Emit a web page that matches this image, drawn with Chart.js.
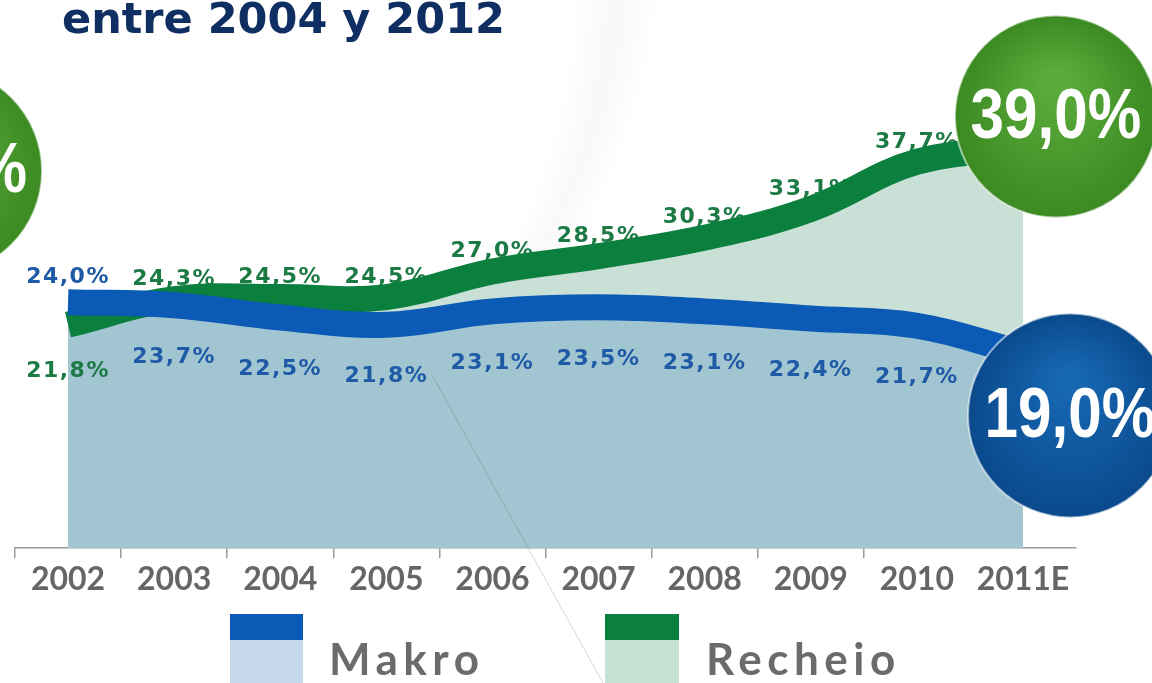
<!DOCTYPE html>
<html>
<head>
<meta charset="utf-8">
<script src="https://cdn.jsdelivr.net/npm/chart.js@4.4.1/dist/chart.umd.min.js"></script>
<style>
  body { margin: 0; background: #fff; }
  #wrap { position: relative; width: 1152px; height: 683px; overflow: hidden; background: #fff; }
  #c { position: absolute; left: 0; top: 0; }
  .title { position: absolute; left: 62px; top: -3px; font: bold 43px/43px "DejaVu Sans", sans-serif; color: #0f2f62; white-space: nowrap; }
  .sw { position: absolute; }
  .lg { position: absolute; font: bold 44px/52.8px Lato, sans-serif; letter-spacing: 5.5px; color: #6b6b6b; white-space: nowrap; }
</style>
</head>
<body>
<div id="wrap">
  <canvas id="c" width="1152" height="683"></canvas>
  <div class="title">entre 2004 y 2012</div>
  <div class="sw" style="left:230px;top:614px;width:73px;height:26px;background:#0a5ab6"></div>
  <div class="sw" style="left:230px;top:640px;width:73px;height:50px;background:#c6d9ec"></div>
  <div class="lg" style="left:329px;top:632px">Makro</div>
  <div class="sw" style="left:605px;top:614px;width:74px;height:26px;background:#0b7f3e"></div>
  <div class="sw" style="left:605px;top:640px;width:74px;height:50px;background:#c6e2d3"></div>
  <div class="lg" style="left:706px;top:632px">Recheio</div>
</div>
<script>
// years on the x axis
var years = ['2002', '2003', '2004', '2005', '2006', '2007', '2008', '2009', '2010', '2011E'];
// market share, %
var makro = [24.0, 23.7, 22.5, 21.8, 23.1, 23.5, 23.1, 22.4, 21.7, 19.0];
var recheio = [21.8, 24.3, 24.5, 24.5, 27.0, 28.5, 30.3, 33.1, 37.7, 39.0];

function fmt(v) {
  return v.toFixed(1).replace('.', ',') + '%';
}

// faint grey swoosh behind the chart
var backdrop = {
  id: 'backdrop',
  beforeDraw: function(chart) {
    var ctx = chart.ctx;
    ctx.save();
    ctx.filter = 'blur(10px)';
    ctx.fillStyle = 'rgba(0,0,0,0.025)';
    ctx.beginPath();
    ctx.moveTo(646, -20);
    ctx.quadraticCurveTo(625, 190, 500, 330);
    ctx.lineTo(470, 330);
    ctx.quadraticCurveTo(585, 180, 590, -20);
    ctx.closePath();
    ctx.fill();
    ctx.restore();
  }
};

// value labels, drawn under the thick lines
var valueLabels = {
  id: 'valueLabels',
  beforeDatasetsDraw: function(chart) {
    var ctx = chart.ctx;
    ctx.save();
    ctx.font = 'bold 22px "DejaVu Sans"';
    ctx.letterSpacing = '1.5px';
    ctx.textAlign = 'center';
    ctx.textBaseline = 'middle';
    chart.data.datasets.forEach(function(ds, di) {
      var meta = chart.getDatasetMeta(di);
      meta.data.forEach(function(pt, i) {
        if (i === ds.data.length - 1) return; // last value sits in the bubble
        var dy;
        if (di === 0) dy = i === 0 ? -25 : 52;
        else dy = i === 0 ? 47 : -20;
        ctx.fillStyle = ds.labelColor;
        ctx.fillText(fmt(ds.data[i]), pt.x, pt.y + dy);
      });
    });
    ctx.restore();
  },
  afterDatasetsDraw: function(chart) {
    var ctx = chart.ctx;
    ctx.save();
    ctx.strokeStyle = 'rgba(70,70,70,0.22)';
    ctx.lineWidth = 1;
    ctx.beginPath();
    ctx.moveTo(432, 375);
    ctx.lineTo(603, 683);
    ctx.stroke();
    ctx.restore();
  }
};

function bubble(ctx, x, y, r, light, dark, text, align, tx) {
  ctx.save();
  var g = ctx.createRadialGradient(x, y - r * 0.35, r * 0.1, x, y, r);
  g.addColorStop(0, light);
  g.addColorStop(1, dark);
  ctx.beginPath();
  ctx.arc(x, y, r, 0, Math.PI * 2);
  ctx.fillStyle = g;
  ctx.fill();
  ctx.lineWidth = 2;
  ctx.strokeStyle = 'rgba(255,255,255,0.55)';
  ctx.stroke();
  ctx.fillStyle = '#ffffff';
  ctx.font = 'bold 70px "Liberation Sans"';
  ctx.textBaseline = 'middle';
  ctx.textAlign = align || 'center';
  ctx.translate(tx === undefined ? x : tx, y + 2);
  ctx.scale(0.86, 1);
  ctx.fillText(text, 0, 0);
  ctx.restore();
}

var bubbles = {
  id: 'bubbles',
  afterDraw: function(chart) {
    var ctx = chart.ctx;
    var last = years.length - 1;
    var gp = chart.getDatasetMeta(1).data[last];
    var bp = chart.getDatasetMeta(0).data[last];
    bubble(ctx, -62, 171, 104, '#5bab3b', '#3b8a22', '%', 'right', 27);
    bubble(ctx, gp.x + 33, gp.y - 32, 101, '#5bab3b', '#3b8a22', fmt(recheio[last]));
    bubble(ctx, bp.x + 47, bp.y + 62, 102, '#1767b3', '#0a4a8c', fmt(makro[last]));
  }
};

new Chart(document.getElementById('c'), {
  type: 'line',
  data: {
    labels: years,
    datasets: [{
      label: 'Makro',
      data: makro,
      borderColor: '#0a5ab6',
      backgroundColor: '#a1c5d1',
      labelColor: '#1f5aa6',
      fill: 'origin'
    }, {
      label: 'Recheio',
      data: recheio,
      borderColor: '#0b7f3e',
      backgroundColor: '#c8e0d5',
      labelColor: '#1c7a45',
      fill: 'origin'
    }]
  },
  options: {
    responsive: false,
    animation: false,
    layout: { padding: { left: 15, right: 76, top: 0, bottom: 0 } },
    elements: {
      line: { borderWidth: 26, tension: 0.4, borderCapStyle: 'butt' },
      point: { radius: 0 }
    },
    plugins: {
      legend: { display: false },
      tooltip: { enabled: false },
      filler: { drawTime: 'beforeDatasetsDraw' }
    },
    scales: {
      x: {
        offset: true,
        grid: {
          offset: true,
          drawOnChartArea: false,
          tickLength: 10,
          lineWidth: 1.5,
          color: function(c) {
            return (c.index === undefined || c.index >= 9) ? 'rgba(0,0,0,0)' : '#9a9a9a';
          }
        },
        border: { display: true, color: '#9a9a9a', width: 1.5 },
        ticks: {
          font: { family: 'Lato', weight: 'bold', size: 32 },
          color: '#666666',
          padding: 2,
          maxRotation: 0,
          autoSkip: false
        },
        afterFit: function(s) { s.height = 135; }
      },
      y: { display: false, min: 0, max: 53.5 }
    }
  },
  plugins: [backdrop, valueLabels, bubbles]
});
</script>
</body>
</html>
